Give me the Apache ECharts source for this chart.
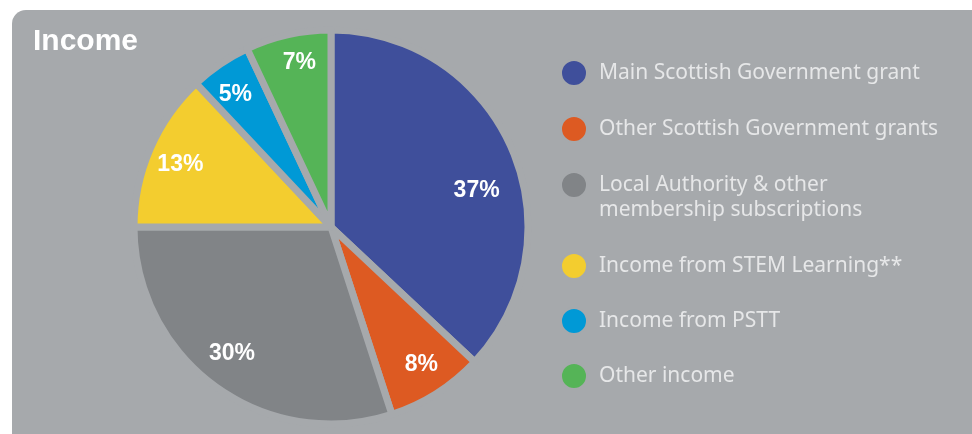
<!DOCTYPE html>
<html>
<head>
<meta charset="utf-8">
<script src="https://cdn.jsdelivr.net/npm/echarts@6/dist/echarts.min.js"></script>
<style>
  html, body { margin: 0; padding: 0; background: #ffffff; }
  #chart { width: 972px; height: 434px; }
</style>
</head>
<body>
<div id="chart"></div>
<script>
const categories = [
  'Main Scottish Government grant',
  'Other Scottish Government grants',
  'Local Authority & other membership subscriptions',
  'Income from STEM Learning**',
  'Income from PSTT',
  'Other income'
];
const legendLabels = [
  'Main Scottish Government grant',
  'Other Scottish Government grants',
  ' \nLocal Authority & other\nmembership subscriptions',
  'Income from STEM Learning**',
  'Income from PSTT',
  'Other income'
];
const percentages = [37, 8, 30, 13, 5, 7];
const colors = ['#3f4f9b', '#dd5a22', '#818487', '#f3cd2f', '#0099d6', '#55b457'];

// small label nudges (style only, not data)
const labelNudge = [[-9, 31], [0, -5], [0, -10], [4, 5], [-1, 7], [5, 0]];

const BG = '#a6a9ac';
const R = 197;
const CENTER = [331, 227];

const mainData = categories.map((n, i) => ({
  name: n, value: percentages[i],
  itemStyle: { color: colors[i] }
}));
const labelData = categories.map((n, i) => ({
  name: n, value: percentages[i],
  label: { offset: labelNudge[i] }
}));

const legendText = {};
categories.forEach((n, i) => { legendText[n] = legendLabels[i]; });

const legendCommon = {
  orient: 'vertical',
  left: 560,
  padding: 0,
  icon: 'circle',
  itemWidth: 40,
  itemHeight: 26,
  selectedMode: false,
  formatter: name => legendText[name],
  textStyle: {
    color: '#e6e7e8',
    fontFamily: 'Noto Sans',
    fontSize: 21,
    lineHeight: 25
  }
};

const chart = echarts.init(document.getElementById('chart'), null, { renderer: 'canvas' });
chart.setOption({
  backgroundColor: 'transparent',
  animation: false,
  graphic: [{
    type: 'rect',
    z: -10,
    silent: true,
    shape: { x: 12, y: 10, width: 1000, height: 460, r: 14 },
    style: { fill: BG }
  }],
  title: {
    text: 'Income',
    left: 28,
    top: 22,
    textStyle: {
      color: '#ffffff',
      fontFamily: 'Liberation Sans',
      fontWeight: 'bold',
      fontSize: 30
    }
  },
  legend: [
    Object.assign({}, legendCommon, {
      top: 59, itemGap: 28,
      data: categories.slice(0, 2)
    }),
    Object.assign({}, legendCommon, {
      top: 147.5, itemGap: 30,
      data: categories.slice(2, 3)
    }),
    Object.assign({}, legendCommon, {
      top: 252, itemGap: 27,
      data: categories.slice(3, 6)
    })
  ],
  series: [
    {
      type: 'pie',
      center: CENTER,
      radius: [0, R],
      startAngle: 90,
      clockwise: true,
      silent: true,
      label: { show: false },
      labelLine: { show: false },
      itemStyle: { borderColor: BG, borderWidth: 7 },
      data: mainData
    },
    {
      type: 'pie',
      center: CENTER,
      radius: [R * 0.68, R],
      startAngle: 90,
      clockwise: true,
      silent: true,
      itemStyle: { color: 'rgba(0,0,0,0)', borderWidth: 0 },
      label: {
        show: true,
        position: 'inside',
        formatter: '{c}%',
        color: '#ffffff',
        fontFamily: 'Liberation Sans',
        fontWeight: 'bold',
        fontSize: 23
      },
      labelLine: { show: false },
      data: labelData
    }
  ]
});
</script>
</body>
</html>
